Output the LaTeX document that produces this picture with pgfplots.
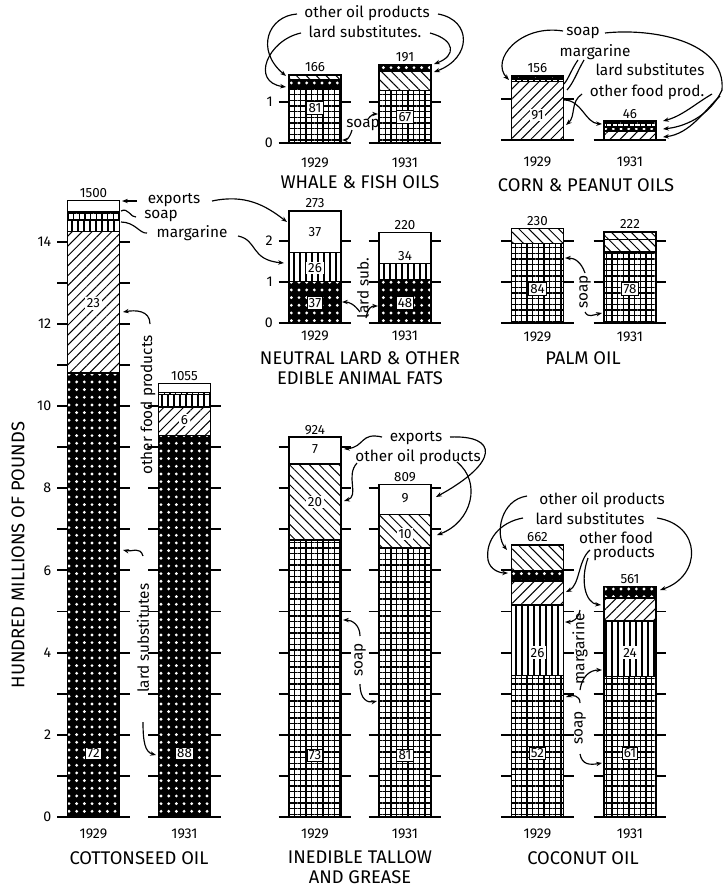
\documentclass[border=0pt]{standalone}
\usepackage{pgfplots}
\pgfplotsset{compat=1.18}
\usepackage{fontspec}
\setmainfont{Fira Sans}
\usetikzlibrary{patterns.meta,arrows.meta}

\newcommand\fann{\fontsize{9.2}{10}\selectfont}
\newcommand\fcat{\fontsize{11}{11.8}\selectfont}
\newcommand\fyr{\fontsize{8.5}{9}\selectfont}
\newcommand\fnum{\fontsize{8}{9}\selectfont}

\tikzset{
  pExp/.style={fill=white},
  pSoap/.style={fill=white, postaction={pattern={Hatch[angle=0,distance=3.4pt,line width=0.7pt]}, pattern color=black}},
  pMarg/.style={fill=white, postaction={pattern={Lines[angle=90,distance=3.6pt,line width=0.8pt]}, pattern color=black}},
  pLard/.style={fill=black, postaction={pattern={Dots[distance=4.6pt,radius=0.95pt]}, pattern color=white}},
  pFood/.style={fill=white, postaction={pattern={Lines[angle=45,distance=4.2pt,line width=0.6pt]}, pattern color=black}},
  pOil/.style={fill=white, postaction={pattern={Lines[angle=-45,distance=4.2pt,line width=0.6pt]}, pattern color=black}},
  ann/.style={font=\fann, inner sep=0.5pt},
  cat/.style={font=\fcat, align=center},
  pct/.style={fill=white, inner sep=1pt, font=\fnum},
  pctb/.style={pct, draw=black, line width=0.6pt},
  tot/.style={above=0.5pt, font=\fnum, inner sep=1pt},
  yr/.style={font=\fyr},
  arr/.style={-{Stealth[length=3.5pt]}, line width=0.7pt},
  crv/.style={line width=0.7pt},
}

% one axis per bar, values in hundred millions of pounds
\pgfplotsset{
  onebar/.style={
    x=31.2pt, y=24.66pt, xmin=-0.7, xmax=0.7, ymin=0,
    anchor=origin, clip=false, axis line style={draw=none},
    xtick=\empty, major tick length=0pt, ymajorgrids,
    grid style={black, line width=1.1pt}, yticklabels={},
    ybar stacked, bar width=1,
    every axis plot/.append style={draw=black, line width=0.9pt},
    yticklabel style={font=\fyr},
    /pgf/number format/assume math mode=true,
  },
}

\begin{document}
\begin{tikzpicture}
\useasboundingbox (0pt,0pt) rectangle (436.2pt,-532.8pt);

% ---- cottonseed oil
\begin{axis}[onebar, at={(56.1pt,-490.2pt)}, ymax=15, ytick={0,...,14},
  yticklabels={0,,2,,4,,6,,8,,10,,12,,14}]
\addplot[pLard] coordinates {(0,10.80)};
\addplot[pFood] coordinates {(0,3.45)};
\addplot[pMarg] coordinates {(0,0.27)};
\addplot[pSoap] coordinates {(0,0.20)};
\addplot[pExp] coordinates {(0,0.28)};
\node[tot] at (axis cs:0,15) {1500};
\coordinate (ca) at (axis cs:0,12.5);
\coordinate (cb) at (axis cs:0,1.55);
\node[yr, yshift=-10pt] at (axis cs:0,0) {1929};
\end{axis}
\node[pct] at (ca) {23};
\node[pctb] at (cb) {72};
\begin{axis}[onebar, at={(110.7pt,-490.2pt)}, ymax=10.55, ytick={0,...,10}]
\addplot[pLard] coordinates {(0,9.28)};
\addplot[pFood] coordinates {(0,0.70)};
\addplot[pMarg] coordinates {(0,0.30)};
\addplot[pSoap] coordinates {(0,0.05)};
\addplot[pExp] coordinates {(0,0.22)};
\node[tot] at (axis cs:0,10.55) {1055};
\coordinate (ca) at (axis cs:0,9.66);
\coordinate (cb) at (axis cs:0,1.55);
\node[yr, yshift=-10pt] at (axis cs:0,0) {1931};
\end{axis}
\node[pct] at (ca) {6};
\node[pctb] at (cb) {88};

% ---- whale & fish oils
\begin{axis}[onebar, at={(189pt,-85.8pt)}, ymax=1.66, ytick={0,1}, yticklabels={0,1}]
\addplot[pSoap] coordinates {(0,1.34)};
\addplot[pLard] coordinates {(0,0.20)};
\addplot[pOil] coordinates {(0,0.12)};
\node[tot] at (axis cs:0,1.66) {166};
\coordinate (ca) at (axis cs:0,0.85);
\node[yr, yshift=-12pt] at (axis cs:0,0) {1929};
\end{axis}
\node[pctb] at (ca) {81};
\begin{axis}[onebar, at={(243pt,-85.8pt)}, ymax=1.91, ytick={0,1}]
\addplot[pSoap] coordinates {(0,1.28)};
\addplot[pOil] coordinates {(0,0.47)};
\addplot[pLard] coordinates {(0,0.16)};
\node[tot] at (axis cs:0,1.91) {191};
\coordinate (ca) at (axis cs:0,0.63);
\node[yr, yshift=-12pt] at (axis cs:0,0) {1931};
\end{axis}
\node[pctb] at (ca) {67};

% ---- corn & peanut oils
\begin{axis}[onebar, at={(322.5pt,-84pt)}, ymax=1.56, ytick={0,1}]
\addplot[pFood] coordinates {(0,1.42)};
\addplot[pMarg] coordinates {(0,0.06)};
\addplot[pSoap] coordinates {(0,0.08)};
\node[tot] at (axis cs:0,1.56) {156};
\coordinate (ca) at (axis cs:0,0.61);
\node[yr, yshift=-13pt] at (axis cs:0,0) {1929};
\end{axis}
\node[pct] at (ca) {91};
\begin{axis}[onebar, at={(378pt,-84pt)}, ymax=0.46, ytick={0}]
\addplot[pFood] coordinates {(0,0.22)};
\addplot[pLard] coordinates {(0,0.10)};
\addplot[pSoap] coordinates {(0,0.14)};
\node[tot] at (axis cs:0,0.46) {46};
\node[yr, yshift=-13pt] at (axis cs:0,0) {1931};
\end{axis}

% ---- neutral lard & other edible animal fats
\begin{axis}[onebar, at={(189pt,-193.8pt)}, ymax=2.73, ytick={0,1,2}, yticklabels={0,1,2}]
\addplot[pLard] coordinates {(0,1.01)};
\addplot[pMarg] coordinates {(0,0.71)};
\addplot[pExp] coordinates {(0,1.01)};
\node[tot] at (axis cs:0,2.73) {273};
\coordinate (ca) at (axis cs:0,2.21);
\coordinate (cb) at (axis cs:0,1.34);
\coordinate (cc) at (axis cs:0,0.49);
\node[yr, yshift=-7.5pt] at (axis cs:0,0) {1929};
\end{axis}
\node[pct] at (ca) {37};
\node[pct] at (cb) {26};
\node[pctb] at (cc) {37};
\begin{axis}[onebar, at={(243pt,-193.8pt)}, ymax=2.20, ytick={0,1,2}]
\addplot[pLard] coordinates {(0,1.06)};
\addplot[pMarg] coordinates {(0,0.39)};
\addplot[pExp] coordinates {(0,0.75)};
\node[tot] at (axis cs:0,2.20) {220};
\coordinate (ca) at (axis cs:0,1.63);
\coordinate (cb) at (axis cs:0,0.49);
\node[yr, yshift=-7.5pt] at (axis cs:0,0) {1931};
\end{axis}
\node[pct] at (ca) {34};
\node[pctb] at (cb) {48};

% ---- palm oil
\begin{axis}[onebar, at={(322.5pt,-193.8pt)}, ymax=2.30, ytick={0,1,2}]
\addplot[pSoap] coordinates {(0,1.93)};
\addplot[pOil] coordinates {(0,0.37)};
\node[tot] at (axis cs:0,2.30) {230};
\coordinate (ca) at (axis cs:0,0.83);
\node[yr, yshift=-8.5pt] at (axis cs:0,0) {1929};
\end{axis}
\node[pctb] at (ca) {84};
\begin{axis}[onebar, at={(378pt,-193.8pt)}, ymax=2.22, ytick={0,1,2}]
\addplot[pSoap] coordinates {(0,1.73)};
\addplot[pOil] coordinates {(0,0.30)};
\addplot[pOil] coordinates {(0,0.19)};
\node[tot] at (axis cs:0,2.22) {222};
\coordinate (ca) at (axis cs:0,0.83);
\node[yr, yshift=-8.5pt] at (axis cs:0,0) {1931};
\end{axis}
\node[pctb] at (ca) {78};

% ---- inedible tallow and grease
\begin{axis}[onebar, at={(189pt,-490.2pt)}, ymax=9.24, ytick={0,...,9}]
\addplot[pSoap] coordinates {(0,6.74)};
\addplot[pOil] coordinates {(0,1.85)};
\addplot[pExp] coordinates {(0,0.65)};
\node[tot] at (axis cs:0,9.24) {924};
\coordinate (ca) at (axis cs:0,8.95);
\coordinate (cb) at (axis cs:0,7.66);
\coordinate (cc) at (axis cs:0,1.5);
\node[yr, yshift=-10pt] at (axis cs:0,0) {1929};
\end{axis}
\node[pct] at (ca) {7};
\node[pct] at (cb) {20};
\node[pctb] at (cc) {73};
\begin{axis}[onebar, at={(243pt,-490.2pt)}, ymax=8.09, ytick={0,...,8}]
\addplot[pSoap] coordinates {(0,6.55)};
\addplot[pOil] coordinates {(0,0.81)};
\addplot[pExp] coordinates {(0,0.73)};
\node[tot] at (axis cs:0,8.09) {809};
\coordinate (ca) at (axis cs:0,7.76);
\coordinate (cb) at (axis cs:0,6.89);
\coordinate (cc) at (axis cs:0,1.5);
\node[yr, yshift=-10pt] at (axis cs:0,0) {1931};
\end{axis}
\node[pct] at (ca) {9};
\node[pct] at (cb) {10};
\node[pctb] at (cc) {81};

% ---- coconut oil
\begin{axis}[onebar, at={(322.5pt,-490.2pt)}, ymax=6.62, ytick={0,...,6}]
\addplot[pSoap] coordinates {(0,3.44)};
\addplot[pMarg] coordinates {(0,1.72)};
\addplot[pFood] coordinates {(0,0.58)};
\addplot[pLard] coordinates {(0,0.25)};
\addplot[pOil] coordinates {(0,0.63)};
\node[tot] at (axis cs:0,6.62) {662};
\coordinate (ca) at (axis cs:0,4.0);
\coordinate (cb) at (axis cs:0,1.55);
\node[yr, yshift=-10pt] at (axis cs:0,0) {1929};
\end{axis}
\node[pct] at (ca) {26};
\node[pctb] at (cb) {52};
\begin{axis}[onebar, at={(378pt,-490.2pt)}, ymax=5.61, ytick={0,...,5}]
\addplot[pSoap] coordinates {(0,3.42)};
\addplot[pMarg] coordinates {(0,1.35)};
\addplot[pFood] coordinates {(0,0.56)};
\addplot[pLard] coordinates {(0,0.28)};
\node[tot] at (axis cs:0,5.61) {561};
\coordinate (ca) at (axis cs:0,4.0);
\coordinate (cb) at (axis cs:0,1.55);
\node[yr, yshift=-10pt] at (axis cs:0,0) {1931};
\end{axis}
\node[pct] at (ca) {24};
\node[pctb] at (cb) {61};

% ---- lettering and leader lines (pixel grid, y downwards)
\begin{scope}[x=0.6pt, y=-0.6pt]
\node[cat, rotate=90] at (18,555) {HUNDRED MILLIONS OF POUNDS};
\node[cat] at (139,858) {COTTONSEED OIL};
\node[cat] at (360,867) {INEDIBLE TALLOW\\AND GREASE};
\node[cat] at (583,858) {COCONUT OIL};
\node[cat] at (360,182) {WHALE \& FISH OILS};
\node[cat] at (586,185) {CORN \& PEANUT OILS};
\node[cat] at (360,368) {NEUTRAL LARD \& OTHER\\EDIBLE ANIMAL FATS};
\node[cat] at (583,358) {PALM OIL};

% cottonseed
\node[ann] at (174,200) {exports};
\draw[arr] (137,201) -- (122,201);
\draw[arr] (212,201) .. controls (245,194) and (265,205) .. (287,222);
\node[ann] at (161,216) {soap};
\draw[crv] (121,211) .. controls (128,207) and (131,218) .. (136,217);
\node[ann] at (192,233) {margarine};
\draw[crv] (121,222) .. controls (135,222) and (140,234) .. (147,233);
\draw[arr] (238,236) .. controls (258,240) and (250,260) .. (284,263);
\node[ann, rotate=90] at (148,405) {other food products};
\draw[arr] (150,324) .. controls (150,310) and (135,310) .. (123,312);
\node[ann, rotate=90] at (143,638) {lard substitutes};
\draw[arr] (143,556) .. controls (140,546) and (132,552) .. (123,550);
\draw[arr] (143,722) .. controls (143,742) and (145,752) .. (156,755);

% whale & fish
\node[ann] at (367,13) {other oil products};
\node[ann] at (365,32) {lard substitutes.};
\draw[arr] (297,14) .. controls (268,16) and (255,50) .. (286,76);
\draw[arr] (301,33) .. controls (268,40) and (250,82) .. (286,87);
\draw[arr] (438,14) .. controls (472,20) and (472,58) .. (434,72);
\draw[arr] (430,33) .. controls (456,40) and (456,56) .. (434,64);
\node[ann] at (363,125) {soap};
\draw[arr] (352,130) .. controls (350,137) and (347,140) .. (342,140);
\draw[arr] (368,119) .. controls (371,115) and (374,114) .. (378,114);

% corn & peanut
\node[ann] at (583,33) {soap};
\node[ann] at (595,52) {margarine};
\node[ann] at (650,70) {lard substitutes};
\node[ann] at (647,92) {other food prod.};
\draw[arr] (563,31) .. controls (520,24) and (490,60) .. (509,80);
\draw[crv] (605,33) .. controls (650,28) and (726,40) .. (722,90);
\draw[arr] (722,90) .. controls (712,112) and (690,126) .. (663,129);
\draw[arr] (720,96) .. controls (705,110) and (690,134) .. (663,137);
\draw[arr] (712,94) .. controls (695,104) and (682,116) .. (663,121);
\draw[crv] (578,60) .. controls (571,70) and (569,78) .. (564,84);
\draw[crv] (584,60) .. controls (577,72) and (574,82) .. (567,90);
\draw[arr] (582,94) .. controls (570,102) and (576,116) .. (566,125);
\draw[arr] (564,100) .. controls (582,100) and (585,123) .. (602,124);

% neutral lard
\node[ann, rotate=90] at (363,288) {lard sub.};
\draw[arr] (360,312) .. controls (354,304) and (349,302) .. (342,302);
\draw[arr] (366,318) .. controls (368,307) and (372,306) .. (378,306);

% palm
\node[ann, rotate=90] at (585,292) {soap};
\draw[arr] (585,273) .. controls (581,262) and (575,258) .. (565,258);
\draw[arr] (585,312) .. controls (588,318) and (593,315) .. (602,313);

% tallow
\node[ann] at (416,438) {exports};
\node[ann] at (418,457) {other oil products};
\draw[arr] (382,437) .. controls (360,432) and (365,447) .. (344,449);
\draw[arr] (450,437) .. controls (498,435) and (500,462) .. (436,497);
\draw[arr] (357,463) .. controls (345,476) and (360,496) .. (344,501);
\draw[arr] (457,462) .. controls (482,482) and (472,522) .. (437,535);
\node[ann, rotate=90] at (360,660) {soap};
\draw[arr] (360,636) .. controls (360,625) and (352,620) .. (343,620);
\draw[arr] (360,684) .. controls (360,700) and (368,703) .. (377,701);

% coconut
\node[ann] at (602,500) {other oil products};
\node[ann] at (590,519) {lard substitutes};
\node[ann] at (616,538) {other food};
\node[ann] at (624,553) {products};
\draw[arr] (527,496) .. controls (500,500) and (495,535) .. (507,550);
\draw[crv] (523,518) .. controls (500,522) and (485,540) .. (488,560);
\draw[arr] (488,560) .. controls (490,570) and (500,573) .. (508,573);
\draw[arr] (657,518) .. controls (702,525) and (702,576) .. (660,590);
\draw[arr] (590,550) .. controls (578,560) and (580,585) .. (566,592);
\draw[arr] (588,558) .. controls (580,580) and (585,603) .. (601,605);
\node[ann, rotate=90] at (580,649) {margarine};
\draw[arr] (580,610) .. controls (578,620) and (572,622) .. (565,622);
\draw[arr] (580,690) .. controls (582,676) and (590,670) .. (602,670);
\node[ann, rotate=90] at (580,728) {soap};
\draw[arr] (580,703) .. controls (580,695) and (572,695) .. (566,697);
\draw[arr] (580,754) .. controls (582,765) and (590,765) .. (602,763);
\end{scope}
\end{tikzpicture}
\end{document}
